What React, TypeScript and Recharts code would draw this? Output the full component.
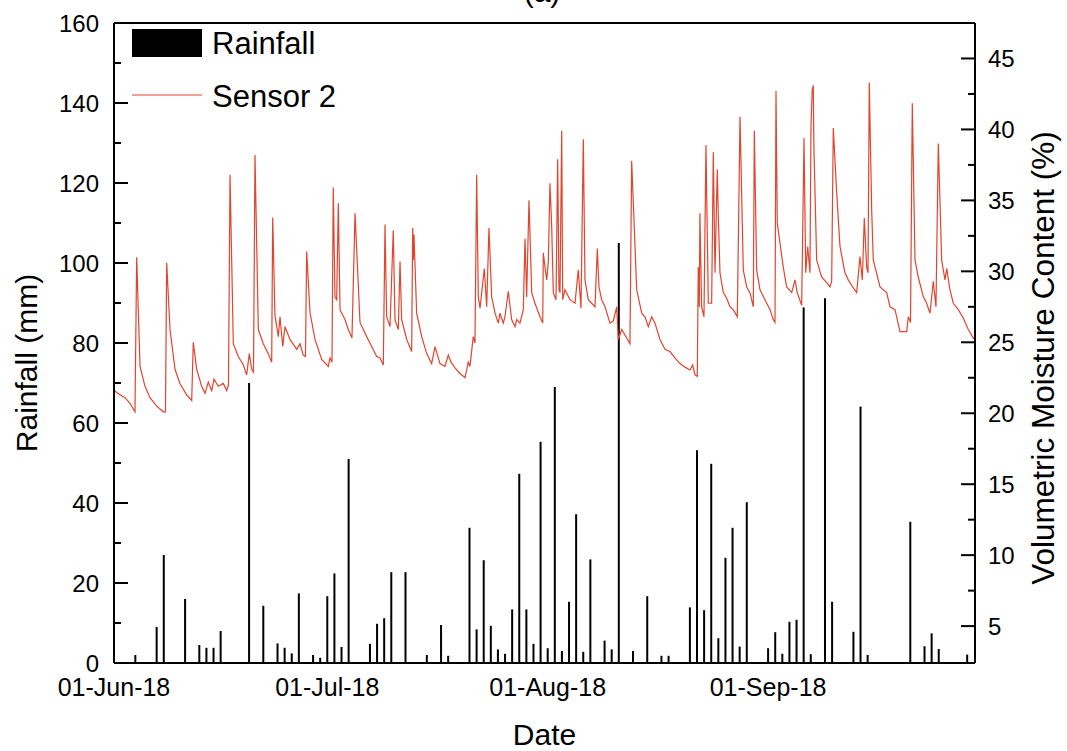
import React from 'react';
import { ComposedChart, Bar, Line, XAxis, YAxis, Legend, ReferenceLine } from 'recharts';

const FONT = 'Arial, "Liberation Sans", Helvetica, sans-serif';
const RED = '#e0452f';

// x values are days counted from 01-Jun-18 00:00
const tickDays = [0, 30, 61, 92];
const tickLabels = ['01-Jun-18', '01-Jul-18', '01-Aug-18', '01-Sep-18'];

// daily rainfall (mm)
const rainDays = [3, 6, 7, 10, 12, 13, 14, 15, 19, 21, 23, 24, 25, 26, 28, 29, 30, 31, 32, 33, 36, 37, 38, 39, 41, 44, 46, 47, 50, 51, 52, 53, 54, 55, 56, 57, 58, 59, 60, 61, 62, 63, 64, 65, 66, 67, 69, 70, 71, 73, 75, 77, 78, 81, 82, 83, 84, 85, 86, 87, 88, 89, 92, 93, 94, 95, 96, 97, 98, 100, 101, 104, 105, 106, 112, 114, 115, 116, 120];
const rainMm = [2, 9, 27, 16, 4.5, 3.8, 3.8, 8, 70, 14.3, 4.9, 3.8, 2.4, 17.4, 2, 1.3, 16.7, 22.4, 4, 51, 4.8, 9.8, 11.2, 22.7, 22.7, 2, 9.5, 1.8, 33.8, 8.4, 25.7, 9.3, 3.4, 2.3, 13.4, 47.3, 13.4, 4.8, 55.3, 3.7, 69, 3, 15.3, 37.2, 2.8, 25.9, 5.6, 3.4, 105, 3, 16.7, 1.8, 1.8, 13.9, 53.2, 13.2, 49.8, 6.2, 26.3, 33.8, 4.1, 40.2, 3.7, 7.7, 2.3, 10.3, 10.8, 88.9, 2.2, 91.2, 15.3, 7.8, 64.1, 2, 35.3, 4.2, 7.4, 3.5, 2.1];

// Sensor 2 volumetric moisture content (%), [day, value]
const sensorJun = [
  [0, 21.6], [0.84, 21.3], [1.55, 21.1], [2.25, 20.7], [2.95, 20.1], [3.19, 31.0], [3.66, 23.3], [4.36, 21.9],
  [5.06, 21.1], [6.01, 20.5], [6.93, 20.1], [7.24, 20.1], [7.41, 30.6], [7.88, 25.9], [8.58, 23.1], [9.28, 22.1],
  [10.22, 21.3], [10.93, 20.9], [11.15, 25.0], [11.63, 23.1], [12.33, 21.9], [12.8, 21.4], [13.26, 22.2], [13.74, 21.6],
  [14.06, 22.4], [14.67, 21.9], [15.37, 22.1], [15.85, 21.6], [16.1, 22.0], [16.32, 36.8], [16.78, 24.9], [17.48, 24.0],
  [18.19, 23.4], [18.66, 22.7], [19.03, 24.2], [19.37, 23.1], [19.62, 22.9], [19.83, 38.2], [20.3, 25.9], [21.0, 24.9],
  [21.7, 24.2], [22.18, 23.6], [22.32, 33.8], [22.64, 26.9], [23.11, 25.4], [23.35, 26.8], [23.73, 24.7], [24.05, 26.1],
  [24.75, 25.2], [25.7, 24.5], [26.16, 24.9], [26.62, 24.1], [26.93, 24.0], [27.1, 31.4], [27.57, 27.1], [28.27, 25.2],
  [29.21, 23.8],
];
const sensorJul = [
  [30.14, 23.3], [30.38, 23.9], [30.66, 23.6], [30.84, 35.9], [31.08, 28.2], [31.32, 28.0], [31.55, 34.8], [31.79, 27.3],
  [32.49, 26.6], [32.95, 25.9], [33.47, 25.3], [33.9, 34.1], [34.6, 26.4], [35.54, 25.4], [36.24, 24.7], [36.95, 24.0],
  [37.41, 23.9], [37.88, 23.4], [38.12, 33.3], [38.35, 26.8], [38.82, 26.1], [39.28, 32.9], [39.52, 26.6], [39.99, 25.9],
  [40.23, 30.7], [40.46, 26.6], [41.17, 25.2], [41.87, 24.35], [42.01, 33.05], [42.1, 30.8], [42.19, 32.6], [42.57, 27.05],
  [43.28, 25.4], [43.98, 24.2], [44.68, 23.5], [45.15, 24.7], [45.85, 23.5], [46.55, 23.3], [47.02, 24.1], [47.4, 23.6],
  [47.96, 23.2], [48.66, 22.8], [49.37, 22.5], [49.83, 23.6], [50.07, 23.3], [50.53, 25.4], [50.77, 24.95], [51.01, 36.8],
  [51.24, 28.2], [51.48, 27.4], [51.72, 28.5], [52.08, 30.2], [52.42, 27.5], [52.74, 33.05], [53.12, 28.2], [53.59, 27.05],
  [54.05, 26.35], [54.29, 27.05], [54.75, 26.35], [54.99, 26.8], [55.46, 28.6], [55.93, 26.6], [56.4, 26.1], [56.64, 26.6],
  [57.1, 26.35], [57.57, 27.3], [57.81, 32.3], [58.04, 28.2], [58.37, 35.0], [58.75, 28.5], [59.21, 27.75], [59.92, 26.8],
  [60.3, 26.35], [60.38, 31.3], [60.62, 30.3], [60.86, 29.4],
];
const sensorAug = [
  [61.08, 30.6], [61.32, 36.2], [61.56, 33.2], [61.79, 28.5], [62.17, 28.0], [62.4, 37.9], [62.59, 28.7], [62.73, 28.5],
  [62.97, 39.9], [63.11, 28.0], [63.43, 28.7], [64.14, 28.0], [64.84, 27.75], [65.3, 30.1], [65.68, 27.4], [66.01, 39.3],
  [66.24, 29.4], [66.71, 28.0], [67.19, 27.75], [67.65, 27.5], [67.98, 31.6], [68.21, 28.9], [68.59, 28.0], [69.06, 27.5],
  [69.76, 26.35], [70.23, 26.5], [70.7, 27.5], [70.93, 25.2], [71.41, 25.9], [72.11, 25.3], [72.57, 24.9], [72.81, 37.8],
  [73.52, 28.7], [74.22, 27.05], [74.68, 26.8], [75.15, 26.1], [75.63, 26.8], [76.09, 26.35], [76.79, 25.2], [77.5, 24.5],
  [78.2, 24.35], [78.9, 23.9], [79.61, 23.5], [80.31, 23.25], [81.01, 23.05], [81.39, 23.4], [81.72, 22.7], [82.04, 22.6],
  [82.18, 30.3], [82.32, 27.5], [82.41, 34.1], [82.65, 27.5], [82.98, 26.8], [83.26, 38.9], [83.59, 27.75], [84.06, 27.75],
  [84.29, 38.4], [84.53, 29.9], [84.85, 37.2], [84.99, 34.1], [85.23, 29.9], [85.7, 28.5], [86.17, 28.1], [86.64, 27.5],
  [87.1, 27.3], [87.67, 26.8], [88.05, 40.9], [88.51, 30.1], [88.99, 28.9], [89.45, 28.5], [89.92, 27.5], [90.06, 39.9],
  [90.39, 30.1], [90.86, 28.7], [91.56, 28.0],
];
const sensorSep = [
  [92.27, 27.3], [92.73, 26.6], [92.97, 26.4], [93.11, 42.7], [93.29, 33.4], [93.67, 32.0], [94.13, 30.3], [94.61, 28.9],
  [95.32, 28.5], [95.78, 29.4], [96.1, 28.5], [96.72, 27.6], [97.05, 39.4], [97.29, 29.9], [97.57, 31.75], [97.89, 29.9],
  [98.03, 40.2], [98.21, 42.8], [98.35, 43.1], [98.45, 38.6], [98.83, 30.8], [99.53, 29.6], [100.24, 29.2], [100.7, 28.9],
  [100.94, 29.3], [101.17, 40.1], [101.65, 35.5], [102.11, 31.75], [102.81, 29.9], [103.28, 29.4], [103.89, 28.9], [104.46, 28.5],
  [104.92, 31.05], [105.25, 29.4], [105.53, 33.75], [105.86, 30.3], [106.05, 29.9], [106.23, 43.3], [106.57, 34.3], [106.79, 30.8],
  [107.74, 28.9], [108.68, 28.5], [109.14, 27.5], [109.85, 27.3], [110.55, 25.75], [111.49, 25.75], [111.72, 26.8], [112.03, 26.4],
  [112.28, 41.85], [112.66, 30.8], [113.12, 29.6], [113.83, 28.2], [114.3, 27.75], [114.77, 27.05], [115.23, 29.3], [115.61, 27.5],
  [115.94, 39.0], [116.41, 30.8], [116.88, 29.4], [117.12, 30.2], [117.58, 28.7], [118.05, 27.75], [118.75, 27.3], [119.46, 26.7],
  [120.16, 25.9], [120.86, 25.3], [121.1, 25.2],
];

const leftTicks = [0, 10, 20, 30, 40, 50, 60, 70, 80, 90, 100, 110, 120, 130, 140, 150, 160];
const rightTicks = [5, 7.5, 10, 12.5, 15, 17.5, 20, 22.5, 25, 27.5, 30, 32.5, 35, 37.5, 40, 42.5, 45];

const rainData = rainDays.map((day, i) => ({ day, rain: rainMm[i] }));
const sensorData = [...sensorJun, ...sensorJul, ...sensorAug, ...sensorSep].map(([day, vmc]) => ({ day, vmc }));

// ticks point into the plot; long ones carry a label
const LeftTick = ({ x, y, payload }: any) => {
  const major = payload.value % 20 === 0;
  const ax = x + 15;
  return (
    <g>
      <line x1={ax} x2={ax + (major ? 14 : 7)} y1={y} y2={y} stroke="#000" strokeWidth={2} />
      {major && (
        <text x={x} y={y} dy={8.5} textAnchor="end" fontSize={24} fontFamily={FONT} fill="#000">
          {payload.value}
        </text>
      )}
    </g>
  );
};

const RightTick = ({ x, y, payload }: any) => {
  const major = payload.value % 5 === 0;
  const ax = x - 13;
  return (
    <g>
      <line x1={ax} x2={ax - (major ? 14 : 7)} y1={y} y2={y} stroke="#000" strokeWidth={2} />
      {major && (
        <text x={x} y={y} dy={8.5} textAnchor="start" fontSize={24} fontFamily={FONT} fill="#000">
          {payload.value}
        </text>
      )}
    </g>
  );
};

const leftTitle = ({ viewBox }: any) => {
  const cx = viewBox.x + 26;
  const cy = viewBox.y + viewBox.height / 2 + 20;
  return (
    <text x={cx} y={cy} dy="0.36em" transform={`rotate(-90 ${cx} ${cy})`} textAnchor="middle" fontSize={30} fontFamily={FONT} fill="#000">
      Rainfall (mm)
    </text>
  );
};

const rightTitle = ({ viewBox }: any) => {
  const cx = viewBox.x + 68;
  const cy = viewBox.y + viewBox.height / 2 + 15;
  return (
    <text x={cx} y={cy} dy="0.36em" transform={`rotate(-90 ${cx} ${cy})`} textAnchor="middle" fontSize={31.5} fontFamily={FONT} fill="#000">
      Volumetric Moisture Content (%)
    </text>
  );
};

const dateTitle = ({ viewBox }: any) => (
  <text x={viewBox.x + viewBox.width / 2} y={viewBox.y + viewBox.height - 6} textAnchor="middle" fontSize={30} fontFamily={FONT} fill="#000">
    Date
  </text>
);

// legend box sits inside the plot, top-left
const renderLegend = () => (
  <svg width={240} height={110} style={{ display: 'block' }}>
    <rect x={0} y={10} width={70} height={28} fill="#000" />
    <text x={80} y={35} fontSize={31} fontFamily={FONT} fill="#000">Rainfall</text>
    <line x1={0} x2={70} y1={76} y2={76} stroke={RED} strokeWidth={1.2} />
    <text x={80} y={88} fontSize={31} fontFamily={FONT} fill="#000">Sensor 2</text>
  </svg>
);

// thin stick for each rainy day, centred on its date
const RainStick = (props: any) => {
  const { x, y, width, height } = props;
  if (!height || height <= 0) return null;
  return <rect x={x + width / 2 - 1} y={y} width={2} height={height} fill="#000" />;
};

export default function App() {
  return (
    <div style={{ position: 'absolute', left: 0, top: 0, width: 1067, height: 751, background: '#fff' }}>
      <svg width={1067} height={20} style={{ position: 'absolute', left: 0, top: 0 }}>
        <text x={542} y={2} textAnchor="middle" fontSize={30} fontFamily={FONT} fill="#000">(a)</text>
      </svg>
      <ComposedChart width={1067} height={751} data={rainData} margin={{ top: 23, right: 0, bottom: 0, left: 0 }}>
        <XAxis
          dataKey="day"
          type="number"
          domain={[0, 121.1]}
          ticks={tickDays}
          interval={0}
          tickFormatter={(v: number) => tickLabels[tickDays.indexOf(v)]}
          tickLine={false}
          tickSize={0}
          tickMargin={15}
          height={88}
          axisLine={{ stroke: '#000', strokeWidth: 2 }}
          tick={{ fontSize: 25, fill: '#000', fontFamily: FONT }}
          label={dateTitle}
        />
        <YAxis
          yAxisId="left"
          domain={[0, 160]}
          ticks={leftTicks}
          interval={0}
          width={114}
          tickLine={false}
          tickSize={0}
          tickMargin={15}
          axisLine={{ stroke: '#000', strokeWidth: 2 }}
          tick={<LeftTick />}
          label={leftTitle}
        />
        <YAxis
          yAxisId="right"
          orientation="right"
          domain={[2.4, 47.5]}
          ticks={rightTicks}
          interval={0}
          width={92}
          tickLine={false}
          tickSize={0}
          tickMargin={13}
          axisLine={{ stroke: '#000', strokeWidth: 2 }}
          tick={<RightTick />}
          label={rightTitle}
        />
        <ReferenceLine yAxisId="left" y={160} stroke="#000" strokeWidth={2} />
        <Legend
          layout="vertical"
          align="center"
          verticalAlign="middle"
          content={renderLegend}
          wrapperStyle={{ left: 132, top: 19, width: 240, height: 110 }}
        />
        <Bar yAxisId="left" dataKey="rain" name="Rainfall" fill="#000" shape={<RainStick />} isAnimationActive={false} />
        <Line
          yAxisId="right"
          data={sensorData}
          dataKey="vmc"
          name="Sensor 2"
          type="linear"
          stroke={RED}
          strokeWidth={1.2}
          dot={false}
          activeDot={false}
          isAnimationActive={false}
        />
      </ComposedChart>
    </div>
  );
}
